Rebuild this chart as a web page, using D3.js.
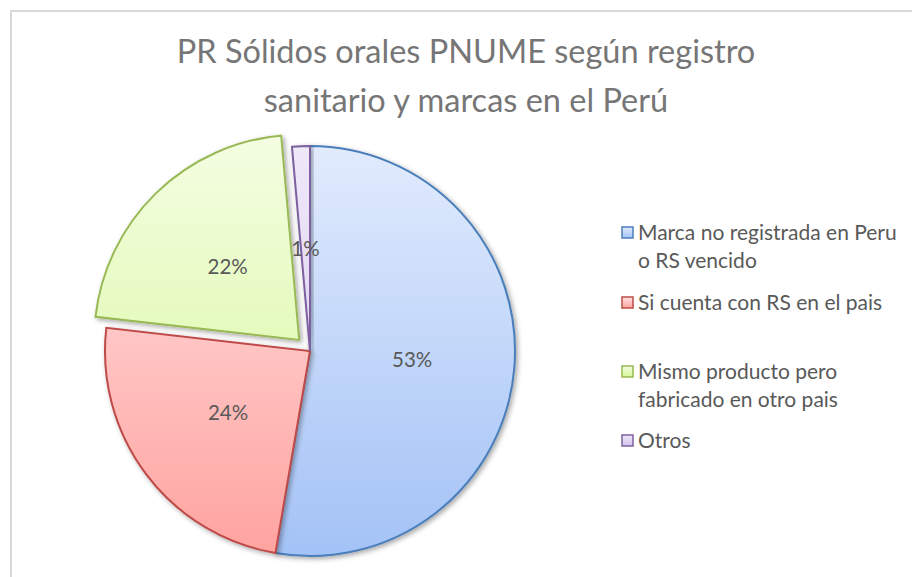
<!DOCTYPE html>
<html>
<head>
<meta charset="utf-8">
<script src="https://cdn.jsdelivr.net/npm/d3@7"></script>
<style>
  body { margin: 0; background: #fff; }
  svg text { font-family: Lato, "Open Sans", sans-serif; }
</style>
</head>
<body>
<svg id="chart"></svg>
<script>
const categories = [
  'Marca no registrada en Peru o RS vencido',
  'Si cuenta con RS en el pais',
  'Mismo producto pero fabricado en otro pais',
  'Otros'
];
const values = [52.7, 24.1, 21.8, 1.4];
const pctLabels = ['53%', '24%', '22%', '1%'];
const legendLines = [
  ['Marca no registrada en Peru', 'o RS vencido'],
  ['Si cuenta con RS en el pais'],
  ['Mismo producto pero', 'fabricado en otro pais'],
  ['Otros']
];
const exploded = [false, false, true, false];
const titleLines = ['PR Sólidos orales PNUME según registro', 'sanitario y marcas en el Perú'];

const strokes = ['#4a7ebb', '#be4b48', '#98b954', '#7d60a0'];
const gradTop = ['#e1ebfd', '#ffe3e3', '#f4fde2', '#efe8f9'];
const gradBottom = ['#a3c2f6', '#ffa3a0', '#d5f896', '#d3c4ec'];

const width = 912, height = 577;
const svg = d3.select('#chart').attr('width', width).attr('height', height);

// chart area frame
svg.append('rect')
  .attr('x', 11).attr('y', 11)
  .attr('width', width + 20).attr('height', height + 20)
  .attr('fill', '#fff')
  .attr('stroke', '#d9d9d9')
  .attr('stroke-width', 2);

const defs = svg.append('defs');
const shadow = defs.append('filter').attr('id', 'shadow')
  .attr('x', '-20%').attr('y', '-20%').attr('width', '140%').attr('height', '140%');
shadow.append('feDropShadow')
  .attr('dx', 2).attr('dy', 2).attr('stdDeviation', 2.5)
  .attr('flood-color', '#000').attr('flood-opacity', 0.35);

const cx = 310, cy = 351, r = 205;

categories.forEach((c, i) => {
  const g = defs.append('linearGradient').attr('id', 'grad' + i)
    .attr('gradientUnits', 'userSpaceOnUse')
    .attr('x1', 0).attr('y1', -r).attr('x2', 0).attr('y2', r);
  g.append('stop').attr('offset', '0%').attr('stop-color', gradTop[i]);
  g.append('stop').attr('offset', '100%').attr('stop-color', gradBottom[i]);
  // legend swatch gradient
  const lg = defs.append('linearGradient').attr('id', 'lgrad' + i)
    .attr('x1', 0).attr('y1', 0).attr('x2', 0).attr('y2', 1);
  lg.append('stop').attr('offset', '0%').attr('stop-color', gradTop[i]);
  lg.append('stop').attr('offset', '100%').attr('stop-color', gradBottom[i]);
});

// title
svg.append('g').selectAll('text')
  .data(titleLines)
  .join('text')
  .attr('x', 466)
  .attr('y', (d, i) => 63 + i * 49)
  .attr('text-anchor', 'middle')
  .attr('fill', '#767676')
  .attr('font-size', 32.5)
  .text(d => d);

const pie = d3.pie().sort(null).value(d => d);
const arcs = pie(values);
const arc = d3.arc().innerRadius(0).outerRadius(r);
const explodeDist = 15.5;

const offset = d => {
  if (!exploded[d.index]) return [0, 0];
  const a = (d.startAngle + d.endAngle) / 2;
  return [explodeDist * Math.sin(a), -explodeDist * Math.cos(a)];
};

const pieG = svg.append('g').attr('transform', `translate(${cx},${cy})`);

pieG.selectAll('path')
  .data(arcs)
  .join('path')
  .attr('transform', d => `translate(${offset(d)})`)
  .attr('d', arc)
  .attr('fill', d => `url(#grad${d.index})`)
  .attr('stroke', d => strokes[d.index])
  .attr('stroke-width', 2)
  .attr('filter', 'url(#shadow)');

pieG.selectAll('text')
  .data(arcs)
  .join('text')
  .attr('transform', d => {
    const c = arc.centroid(d), o = offset(d);
    return `translate(${c[0] + o[0]},${c[1] + o[1]})`;
  })
  .attr('text-anchor', 'middle')
  .attr('dy', '0.35em')
  .attr('fill', '#595959')
  .attr('font-size', 20.5)
  .text(d => pctLabels[d.index]);

// legend
const legendY = [233, 303, 372, 441];
const legend = svg.append('g');
legendLines.forEach((lines, i) => {
  legend.append('rect')
    .attr('x', 622).attr('y', legendY[i] - 6)
    .attr('width', 11).attr('height', 11)
    .attr('fill', `url(#lgrad${i})`)
    .attr('stroke', strokes[i])
    .attr('stroke-width', 1.5);
  lines.forEach((t, j) => {
    legend.append('text')
      .attr('x', 638)
      .attr('y', legendY[i] + j * 27.5)
      .attr('dy', '0.35em')
      .attr('fill', '#595959')
      .attr('font-size', 21)
      .text(t);
  });
});
</script>
</body>
</html>
